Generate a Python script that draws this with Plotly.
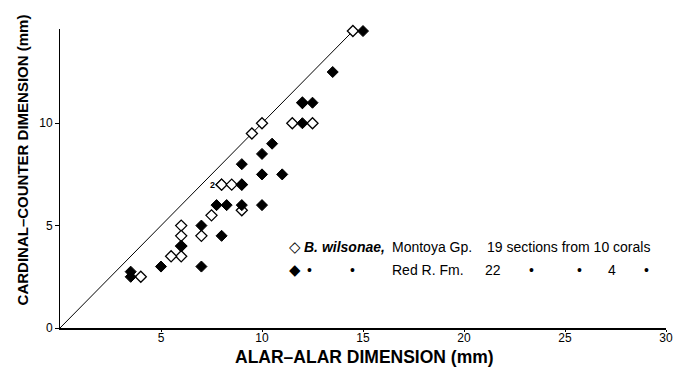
import plotly.graph_objects as go

# ---- data ----
montoya_x = [14.5, 12, 11.5, 12.5, 10, 9.5, 8, 8, 8.5, 9, 9, 7.5, 7, 6, 6, 6, 6, 5.5, 4]
montoya_y = [14.5, 11, 10, 10, 10, 9.5, 7, 7, 7, 7, 5.75, 5.5, 4.5, 5, 4.5, 4, 3.5, 3.5, 2.5]
redr_x = [15, 13.5, 12, 12.5, 12, 10.5, 10, 9, 10, 11, 9, 7.75, 8.25, 9, 10, 7, 8, 6, 5, 7, 3.5, 3.5]
redr_y = [14.5, 12.5, 11, 11, 10, 9, 8.5, 8, 7.5, 7.5, 7, 6, 6, 6, 6, 5, 4.5, 4, 3, 3, 2.75, 2.5]
equal_line = [0, 14.5]
x_ticks = [5, 10, 15, 20, 25, 30]
y_ticks = [0, 5, 10]

FONT = "Liberation Sans, Arial, sans-serif"
W, H = 683, 370
ML, MR, MT, MB = 60, 10, 29, 42
PW, PH = W - ML - MR, H - MT - MB


def px(xp):
    return (xp - ML) / PW


def py(yp):
    return (H - MB - yp) / PH


fig = go.Figure()
fig.add_trace(go.Scatter(x=equal_line, y=equal_line, mode="lines",
                         line=dict(color="black", width=1), showlegend=False,
                         hoverinfo="skip"))
fig.add_trace(go.Scatter(x=montoya_x, y=montoya_y, mode="markers",
                         name="B. wilsonae, Montoya Gp.",
                         marker=dict(symbol="diamond", size=8.5, color="white",
                                     line=dict(color="black", width=1.3)),
                         cliponaxis=False, showlegend=False))
fig.add_trace(go.Scatter(x=redr_x, y=redr_y, mode="markers",
                         name="Red R. Fm.",
                         marker=dict(symbol="diamond", size=8.5, color="black",
                                     line=dict(color="black", width=1)),
                         cliponaxis=False, showlegend=False))

ann = []
# "2" beside the doubled point
ann.append(dict(x=8, y=7, xref="x", yref="y", text="<b>2</b>", showarrow=False,
                xshift=-9, font=dict(family=FONT, size=9, color="black")))
# axis titles
ann.append(dict(x=px(368), y=py(357), xref="paper", yref="paper",
                text="<b>ALAR\u2013ALAR DIMENSION (mm)</b>", showarrow=False,
                xanchor="center", yanchor="middle",
                font=dict(family=FONT, size=17.5, color="black")))
ann.append(dict(x=px(22), y=py(160), xref="paper", yref="paper",
                text="<b>CARDINAL\u2013COUNTER DIMENSION (mm)</b>", showarrow=False,
                textangle=-90, xanchor="center", yanchor="middle",
                font=dict(family=FONT, size=15, color="black")))

# legend block (text table)
r1, r2 = 247, 270
lf = dict(family=FONT, size=14, color="black")
legend_items = [
    (298, r1, "\u25C7", "center", dict(family="DejaVu Sans", size=15, color="black")),
    (305, r1, "<b><i>B. wilsonae,</i></b>", "left", lf),
    (394, r1, "Montoya Gp.", "left", lf),
    (490, r1, "19 sections from 10 corals", "left", lf),
    (298, r2, "\u25C6", "center", dict(family="DejaVu Sans", size=15, color="black")),
    (312, r2, "\u2022", "center", lf),
    (356, r2, "\u2022", "center", lf),
    (394, r2, "Red R. Fm.", "left", lf),
    (488, r2, "22", "left", lf),
    (537, r2, "\u2022", "center", lf),
    (585, r2, "\u2022", "center", lf),
    (618, r2, "4", "center", lf),
    (653, r2, "\u2022", "center", lf),
]
for xp, yp, t, anc, f in legend_items:
    ann.append(dict(x=px(xp), y=py(yp), xref="paper", yref="paper", text=t,
                    showarrow=False, xanchor=anc, yanchor="middle", font=f))

fig.update_layout(
    width=W, height=H,
    margin=dict(l=ML, r=MR, t=MT, b=MB),
    paper_bgcolor="white", plot_bgcolor="white",
    annotations=ann,
    xaxis=dict(range=[0, 30], tickvals=x_ticks, ticks="outside", ticklen=2,
               tickcolor="black", showline=True, linecolor="black", linewidth=2,
               showgrid=False, zeroline=False, ticklabelstandoff=-4,
               tickfont=dict(family=FONT, size=12, color="black")),
    yaxis=dict(range=[0, 14.6], tickvals=y_ticks, ticks="outside", ticklen=4,
               tickcolor="black", showline=True, linecolor="black", linewidth=1,
               showgrid=False, zeroline=False,
               tickfont=dict(family=FONT, size=12, color="black")),
)

fig.write_html("out.html")
